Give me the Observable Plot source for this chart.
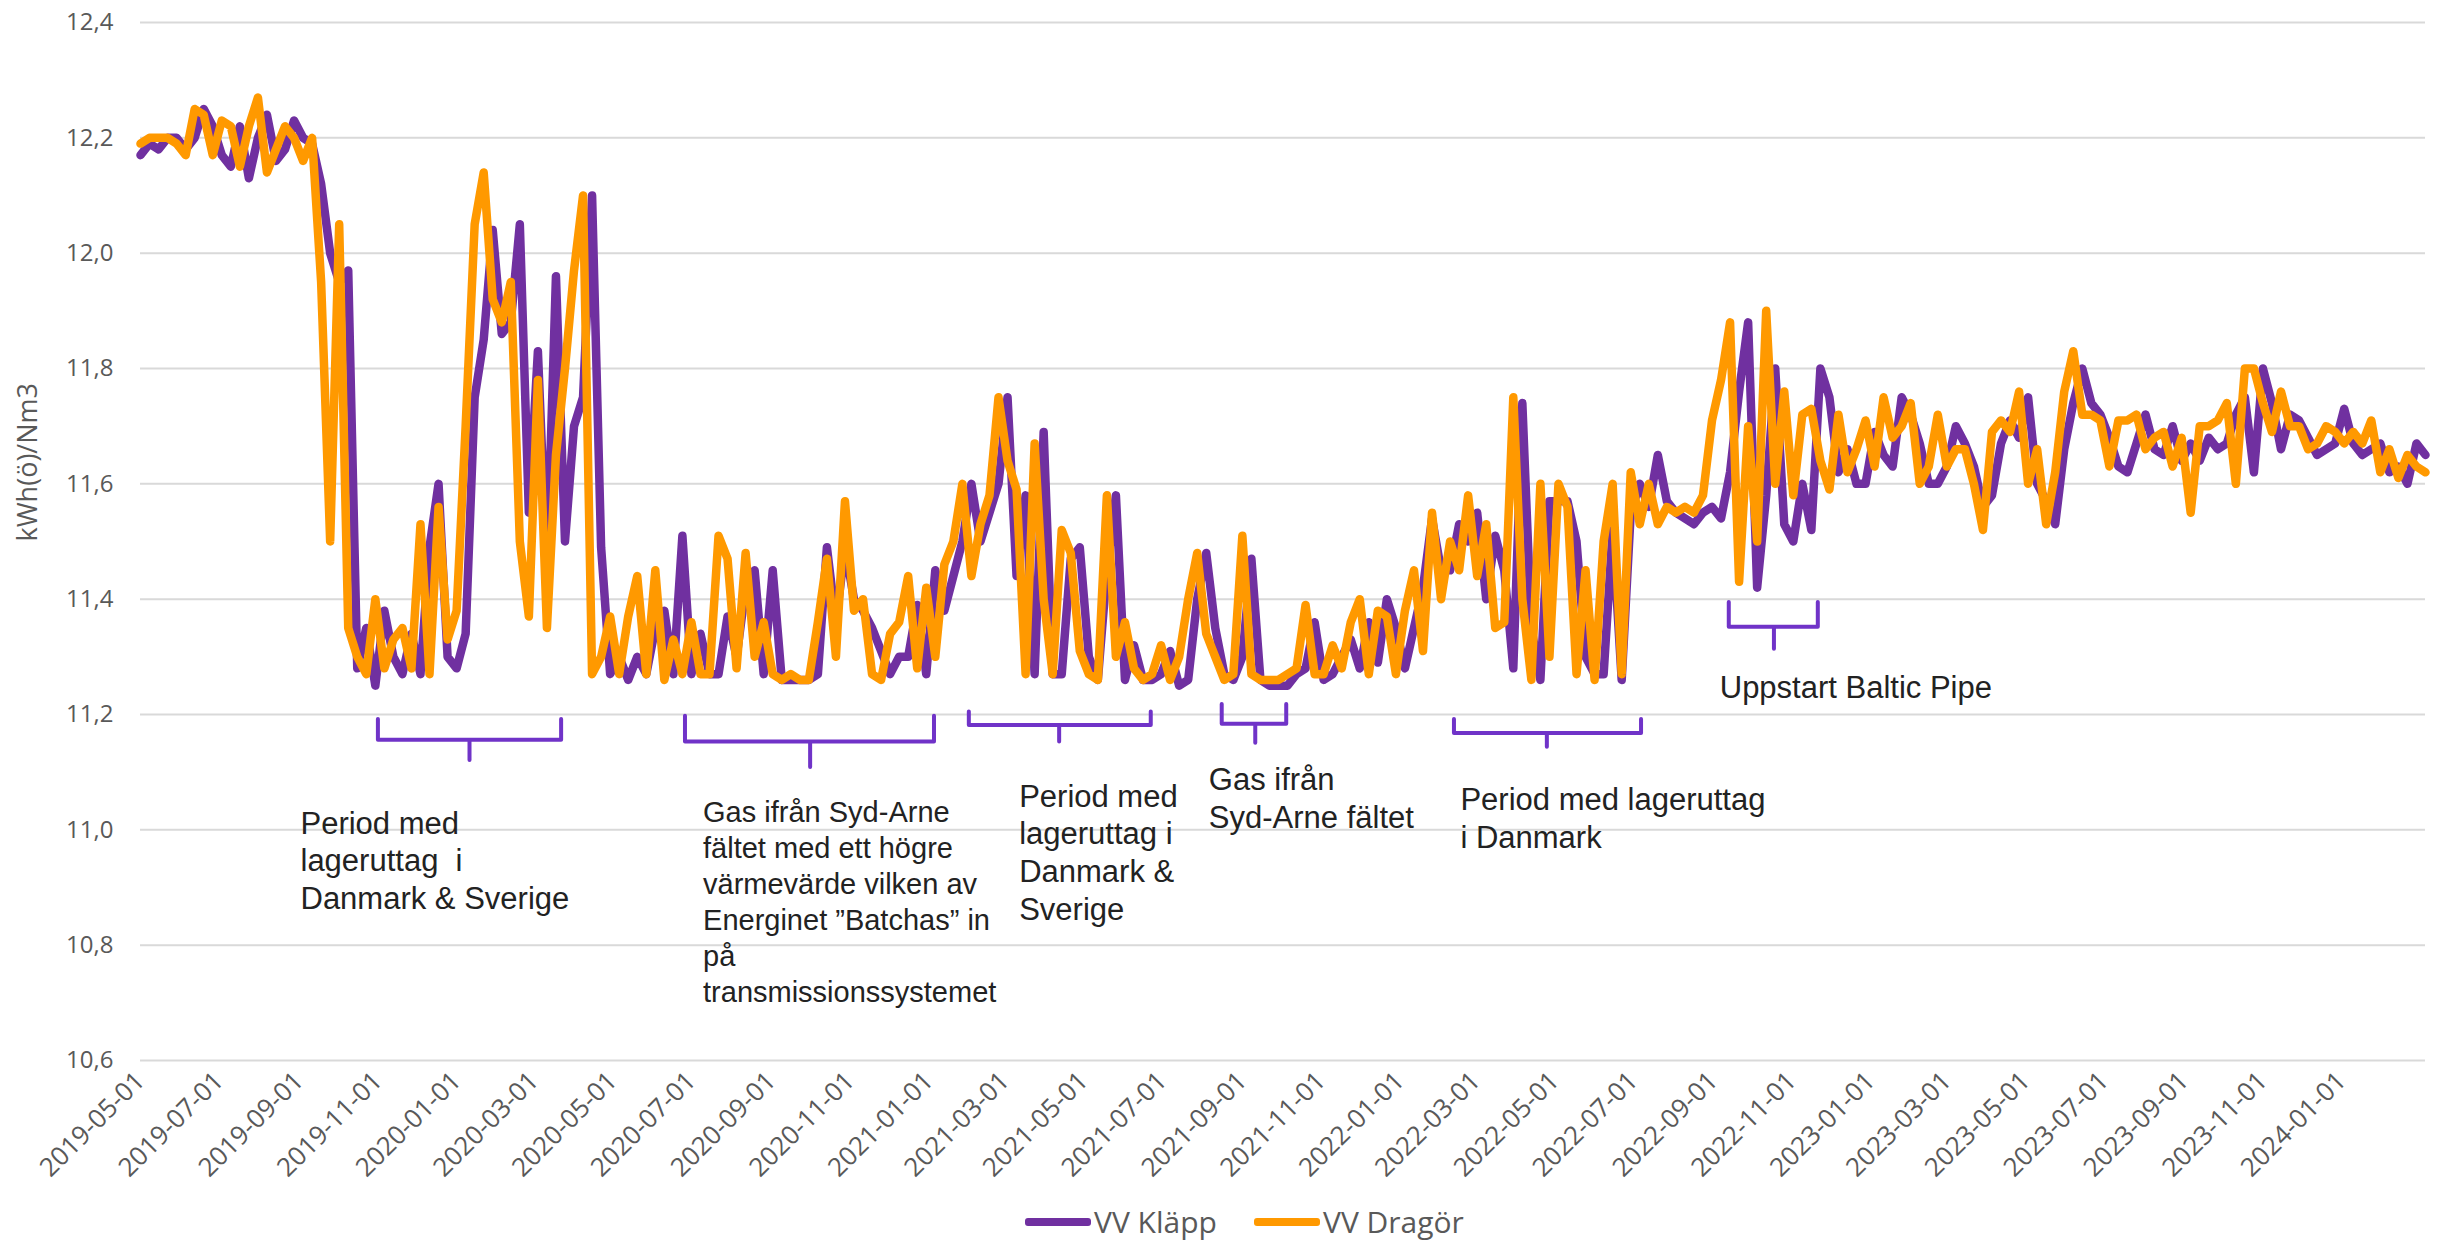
<!DOCTYPE html>
<html>
<head>
<meta charset="utf-8">
<script src="https://cdn.jsdelivr.net/npm/d3@7"></script>
<script src="https://cdn.jsdelivr.net/npm/@observablehq/plot@0.6"></script>
<style>
  html, body { margin: 0; padding: 0; background: #fff; overflow: hidden; }
  #legend { position: relative; height: 50px; font-family: "Open Sans", sans-serif; font-size: 30px; color: #595959; }
  .item { position: absolute; top: 14px; height: 36px; line-height: 36px; display: flex; align-items: center; }
  .sw { display: inline-block; width: 66px; height: 8px; border-radius: 3px; margin-right: 3px; }
</style>
</head>
<body>
<div id="chart"></div>
<div id="legend">
  <div class="item" style="left:1025px"><span class="sw" style="background:#7030A0"></span>VV Kläpp</div>
  <div class="item" style="left:1254px"><span class="sw" style="background:#FF9900"></span>VV Dragör</div>
</div>
<script>
// ---- Data (weekly readings from 2019-05-01) ----
const startDate = "2019-05-01";
const stepDays = 7;
const seriesNames = ["VV Kläpp", "VV Dragör"];
const seriesColors = ["#7030A0", "#FF9900"];

const klapp = [
12.17,12.19,12.18,12.2,12.2,12.18,12.2,12.25,12.22,12.17,
12.15,12.22,12.13,12.2,12.24,12.16,12.18,12.23,12.2,12.19,
12.12,12.0,11.95,11.97,11.28,11.35,11.25,11.38,11.3,11.27,
11.34,11.27,11.49,11.6,11.3,11.28,11.34,11.75,11.85,12.04,
11.86,11.88,12.05,11.55,11.83,11.45,11.96,11.5,11.7,11.75,
12.1,11.49,11.27,11.3,11.26,11.3,11.27,11.35,11.38,11.27,
11.51,11.27,11.34,11.27,11.27,11.37,11.3,11.42,11.45,11.27,
11.45,11.26,11.26,11.26,11.26,11.27,11.49,11.36,11.49,11.4,
11.38,11.35,11.31,11.27,11.3,11.3,11.39,11.27,11.45,11.38,
11.44,11.5,11.6,11.5,11.55,11.6,11.75,11.44,11.58,11.27,
11.69,11.27,11.27,11.47,11.49,11.3,11.26,11.45,11.58,11.26,
11.32,11.26,11.26,11.27,11.31,11.25,11.26,11.4,11.48,11.35,
11.27,11.26,11.3,11.47,11.26,11.25,11.25,11.25,11.27,11.28,
11.36,11.26,11.27,11.3,11.33,11.28,11.36,11.29,11.4,11.35,
11.28,11.35,11.42,11.54,11.45,11.45,11.53,11.5,11.55,11.4,
11.51,11.45,11.28,11.74,11.35,11.26,11.57,11.57,11.57,11.5,
11.3,11.27,11.27,11.52,11.26,11.55,11.6,11.56,11.65,11.57,
11.55,11.54,11.53,11.55,11.56,11.54,11.62,11.76,11.88,11.42,
11.58,11.8,11.53,11.5,11.6,11.52,11.8,11.75,11.62,11.66,
11.6,11.6,11.69,11.65,11.63,11.75,11.72,11.67,11.6,11.6,
11.63,11.7,11.67,11.63,11.56,11.58,11.67,11.71,11.68,11.75,
11.6,11.57,11.53,11.66,11.74,11.8,11.74,11.72,11.68,11.63,
11.62,11.67,11.72,11.66,11.65,11.7,11.64,11.67,11.64,11.68,
11.66,11.67,11.72,11.75,11.62,11.8,11.74,11.66,11.72,11.71,
11.68,11.65,11.66,11.67,11.73,11.67,11.65,11.66,11.67,11.62,
11.63,11.6,11.67,11.65
];

const dragor = [
12.19,12.2,12.2,12.2,12.19,12.17,12.25,12.24,12.17,12.23,
12.22,12.15,12.22,12.27,12.14,12.18,12.22,12.2,12.16,12.2,
11.95,11.5,12.05,11.35,11.3,11.27,11.4,11.28,11.33,11.35,
11.28,11.53,11.27,11.56,11.33,11.38,11.7,12.05,12.14,11.92,
11.88,11.95,11.5,11.37,11.78,11.35,11.65,11.8,11.97,12.1,
11.27,11.3,11.37,11.27,11.37,11.44,11.27,11.45,11.26,11.33,
11.27,11.36,11.27,11.27,11.51,11.47,11.28,11.48,11.3,11.36,
11.27,11.26,11.27,11.26,11.26,11.36,11.47,11.3,11.57,11.38,
11.4,11.27,11.26,11.34,11.36,11.44,11.28,11.42,11.3,11.46,
11.5,11.6,11.44,11.53,11.58,11.75,11.64,11.59,11.27,11.67,
11.4,11.27,11.52,11.48,11.31,11.27,11.26,11.58,11.3,11.36,
11.28,11.26,11.27,11.32,11.26,11.3,11.4,11.48,11.34,11.3,
11.26,11.27,11.51,11.27,11.26,11.26,11.26,11.27,11.28,11.39,
11.27,11.27,11.32,11.28,11.36,11.4,11.27,11.38,11.37,11.27,
11.38,11.45,11.31,11.55,11.4,11.5,11.45,11.58,11.44,11.53,
11.35,11.36,11.75,11.4,11.26,11.6,11.3,11.6,11.56,11.27,
11.45,11.26,11.5,11.6,11.27,11.62,11.53,11.6,11.53,11.56,
11.55,11.56,11.55,11.58,11.71,11.78,11.88,11.43,11.7,11.5,
11.9,11.6,11.76,11.58,11.72,11.73,11.64,11.59,11.72,11.62,
11.66,11.71,11.63,11.75,11.68,11.7,11.74,11.6,11.63,11.72,
11.63,11.66,11.66,11.6,11.52,11.69,11.71,11.69,11.76,11.6,
11.66,11.53,11.62,11.76,11.83,11.72,11.72,11.71,11.63,11.71,
11.71,11.72,11.66,11.68,11.69,11.63,11.68,11.55,11.7,11.7,
11.71,11.74,11.6,11.8,11.8,11.74,11.69,11.76,11.7,11.7,
11.66,11.67,11.7,11.69,11.67,11.69,11.67,11.71,11.62,11.66,
11.61,11.65,11.63,11.62
];

const yTicks = [10.6, 10.8, 11.0, 11.2, 11.4, 11.6, 11.8, 12.0, 12.2, 12.4];
const xTickLabels = [
  "2019-05-01","2019-07-01","2019-09-01","2019-11-01",
  "2020-01-01","2020-03-01","2020-05-01","2020-07-01","2020-09-01","2020-11-01",
  "2021-01-01","2021-03-01","2021-05-01","2021-07-01","2021-09-01","2021-11-01",
  "2022-01-01","2022-03-01","2022-05-01","2022-07-01","2022-09-01","2022-11-01",
  "2023-01-01","2023-03-01","2023-05-01","2023-07-01","2023-09-01","2023-11-01",
  "2024-01-01"
];
const xDomain = ["2019-05-01", "2024-03-06"];
const yDomain = [10.6, 12.4];
const yLabel = "kWh(ö)/Nm3";

// Annotation braces: [start, end, stem date, top value, bar value, tip value]
const braceStart = ["2019-11-01","2020-06-26","2021-02-01","2021-08-16","2022-02-12","2022-09-13"];
const braceEnd   = ["2020-03-22","2021-01-05","2021-06-22","2021-10-05","2022-07-07","2022-11-21"];
const braceStem  = ["2020-01-11","2020-10-01","2021-04-12","2021-09-11","2022-04-25","2022-10-18"];
const braceTop   = [11.192, 11.198, 11.205, 11.218, 11.192, 11.395];
const braceBar   = [11.156, 11.153, 11.182, 11.184, 11.168, 11.352];
const braceTip   = [11.121, 11.109, 11.153, 11.151, 11.144, 11.314];

// Annotation texts
const noteText = [
  "Period med\nlageruttag \u00a0i\nDanmark & Sverige",
  "Gas ifrån Syd-Arne\nfältet med ett högre\nvärmevärde vilken av\nEnerginet ”Batchas” in\npå\ntransmissionssystemet",
  "Period med\nlageruttag i\nDanmark &\nSverige",
  "Gas ifrån\nSyd-Arne fältet",
  "Period med lageruttag\ni Danmark",
  "Uppstart Baltic Pipe"
];
const noteDate  = ["2019-09-02","2020-07-10","2021-03-12","2021-08-06","2022-02-17","2022-09-06"];
const noteValue = [11.040, 11.058, 11.087, 11.116, 11.081, 11.275];
const noteSize  = [31, 29, 31, 31, 31, 31];

// ---- Build tables ----
const parse = d3.utcParse("%Y-%m-%d");
const t0 = parse(startDate);
const rows = [];
[klapp, dragor].forEach((vals, s) => {
  vals.forEach((v, i) => rows.push({date: d3.utcDay.offset(t0, i * stepDays), value: v, series: seriesNames[s]}));
});
const braceRows = [];
braceStart.forEach((s, k) => {
  const a = parse(s), b = parse(braceEnd[k]), c = parse(braceStem[k]);
  [[a, braceTop[k]], [a, braceBar[k]], [c, braceBar[k]], [c, braceTip[k]], [c, braceBar[k]], [b, braceBar[k]], [b, braceTop[k]]]
    .forEach(([d, v]) => braceRows.push({id: k, date: d, value: v}));
});
const notes = noteText.map((t, k) => ({text: t, date: parse(noteDate[k]), value: noteValue[k], size: noteSize[k]}));
const fmtComma = d => d.toFixed(1).replace(".", ",");

const chart = Plot.plot({
  width: 2443,
  height: 1190,
  marginLeft: 140,
  marginRight: 18,
  marginTop: 22,
  marginBottom: 130,
  style: {fontFamily: "'Open Sans', sans-serif", background: "#fff", overflow: "visible"},
  x: {type: "utc", domain: xDomain.map(parse)},
  y: {domain: yDomain},
  marks: [
    Plot.gridY(yTicks, {stroke: "#d9d9d9", strokeOpacity: 1, strokeWidth: 2}),
    Plot.axisY(yTicks, {tickSize: 0, tickPadding: 27, tickFormat: fmtComma, fontSize: 24, fill: "#595959", label: null}),
    Plot.axisX(xTickLabels.map(parse), {tickSize: 0, tickPadding: 16, tickRotate: -45, tickFormat: d3.utcFormat("%Y-%m-%d"), fontSize: 26, fill: "#595959", label: null}),
    Plot.text([yLabel], {frameAnchor: "left", dx: -112, rotate: -90, fontSize: 27, fill: "#595959"}),
    Plot.line(rows.filter(d => d.series === seriesNames[0]), {x: "date", y: "value", stroke: seriesColors[0], strokeWidth: 8.5, strokeLinejoin: "round"}),
    Plot.line(rows.filter(d => d.series === seriesNames[1]), {x: "date", y: "value", stroke: seriesColors[1], strokeWidth: 8.5, strokeLinejoin: "round"}),
    Plot.line(braceRows, {x: "date", y: "value", z: "id", stroke: "#7033C8", strokeWidth: 4, strokeLinejoin: "round"}),
    Plot.text(notes.filter(d => d.size === 31), {x: "date", y: "value", text: "text", textAnchor: "start", lineAnchor: "top", lineHeight: 1.22, fontSize: 31, fontFamily: "'Liberation Sans', Arial, sans-serif", fill: "#222"}),
    Plot.text(notes.filter(d => d.size === 29), {x: "date", y: "value", text: "text", textAnchor: "start", lineAnchor: "top", lineHeight: 1.24, fontSize: 29, fontFamily: "'Liberation Sans', Arial, sans-serif", fill: "#222"})
  ]
});
document.getElementById("chart").appendChild(chart);
</script>
</body>
</html>
